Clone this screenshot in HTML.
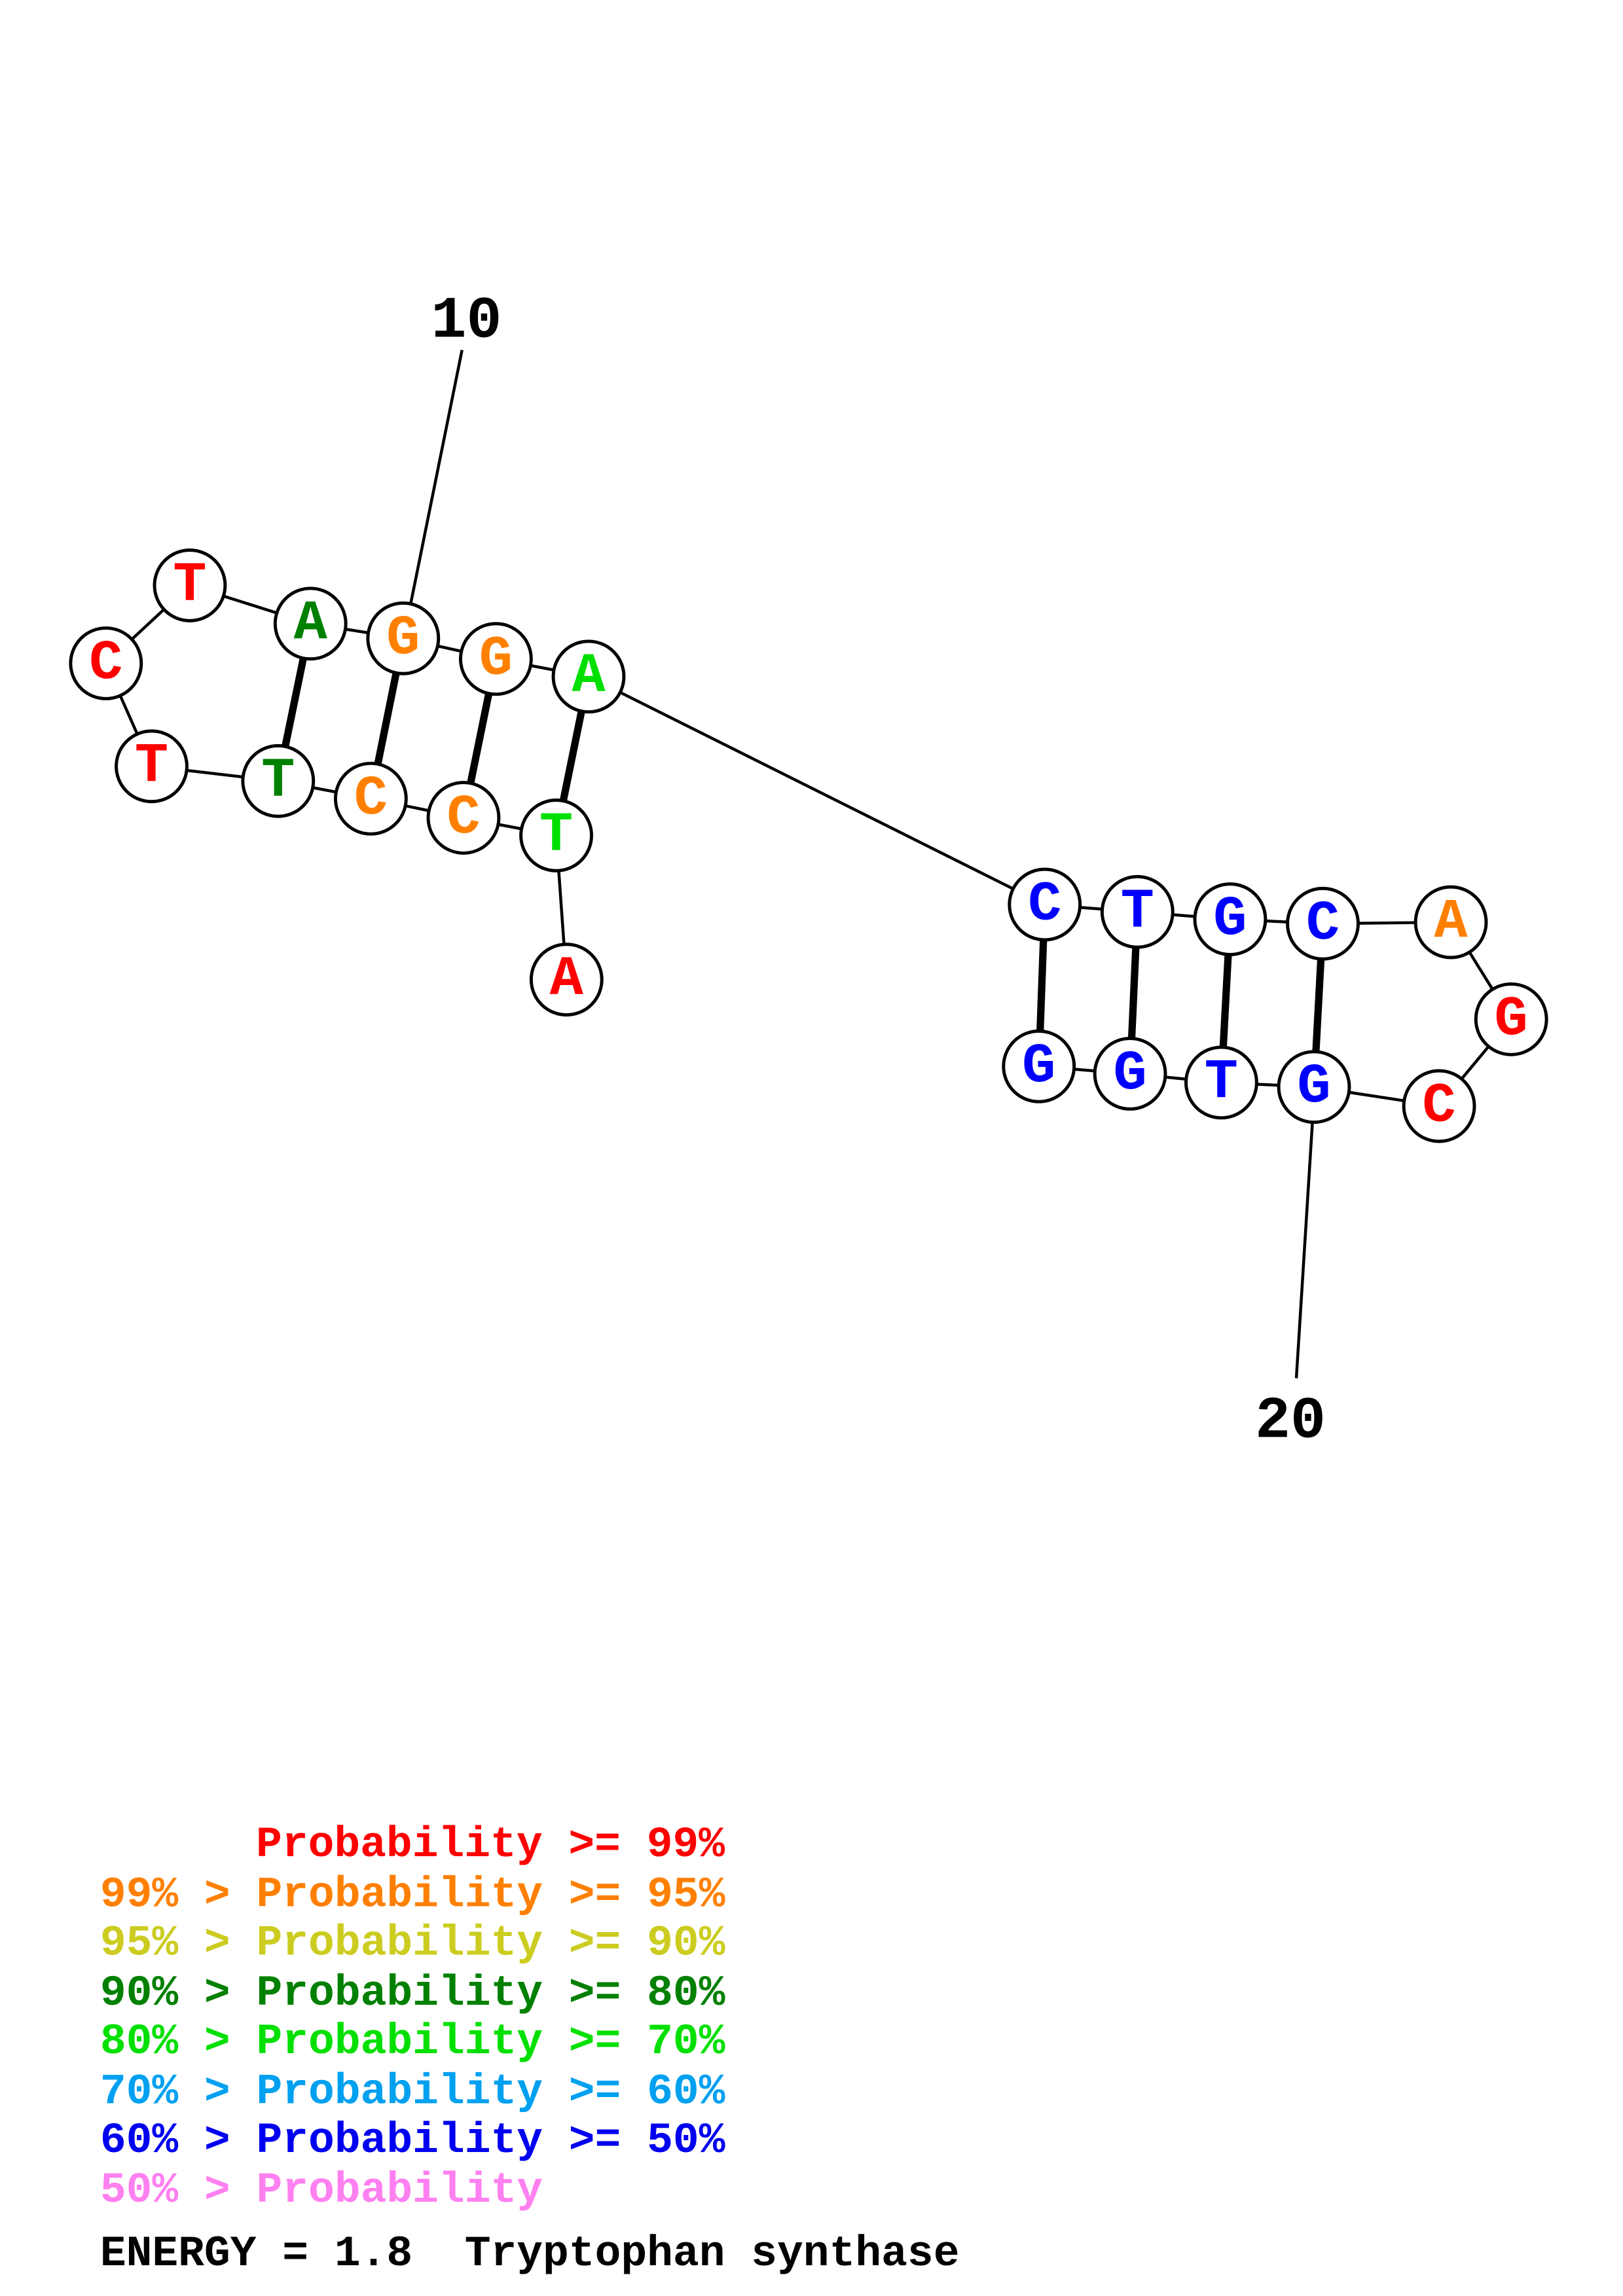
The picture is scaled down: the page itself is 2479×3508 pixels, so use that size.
<!DOCTYPE html>
<html><head><meta charset="utf-8"><style>html,body{margin:0;padding:0;background:#fff}svg{display:block}</style></head>
<body>
<svg width="2479" height="3508" viewBox="0 0 1103 1561" preserveAspectRatio="none" xmlns="http://www.w3.org/2000/svg">
<g stroke="#000" stroke-width="2" fill="none">
<polyline points="385,666 378,568 315,556 252,543 189,531 103,521 72,451 129,398 211,424 274,434 337,448 400,460 710,615 773,620 836,625 899,628 986,627 1027,693 978,752 893,739 830,736 768,730 706,725"/>
<line x1="314" y1="238" x2="279" y2="411"/>
<line x1="892" y1="762" x2="881" y2="937"/>
</g>
<g stroke="#000" stroke-width="5">
<line x1="211" y1="424" x2="189" y2="531"/>
<line x1="274" y1="434" x2="252" y2="543"/>
<line x1="337" y1="448" x2="315" y2="556"/>
<line x1="400" y1="460" x2="378" y2="568"/>
<line x1="710" y1="615" x2="706" y2="725"/>
<line x1="773" y1="620" x2="768" y2="730"/>
<line x1="836" y1="625" x2="830" y2="736"/>
<line x1="899" y1="628" x2="893" y2="739"/>
</g>
<g stroke="#000" stroke-width="2.2" fill="#fff">
<circle cx="129" cy="398" r="24"/><circle cx="72" cy="451" r="24"/><circle cx="103" cy="521" r="24"/>
<circle cx="211" cy="424" r="24"/><circle cx="274" cy="434" r="24"/><circle cx="337" cy="448" r="24"/>
<circle cx="400" cy="460" r="24"/><circle cx="189" cy="531" r="24"/><circle cx="252" cy="543" r="24"/>
<circle cx="315" cy="556" r="24"/><circle cx="378" cy="568" r="24"/><circle cx="385" cy="666" r="24"/>
<circle cx="710" cy="615" r="24"/><circle cx="773" cy="620" r="24"/><circle cx="836" cy="625" r="24"/>
<circle cx="899" cy="628" r="24"/><circle cx="986" cy="627" r="24"/><circle cx="1027" cy="693" r="24"/>
<circle cx="978" cy="752" r="24"/><circle cx="893" cy="739" r="24"/><circle cx="830" cy="736" r="24"/>
<circle cx="768" cy="730" r="24"/><circle cx="706" cy="725" r="24"/>
</g>
<g font-family="Liberation Mono, monospace" font-weight="bold" font-size="38" text-anchor="middle" dominant-baseline="central">
<text x="129" y="398" fill="#f00">T</text><text x="72" y="451" fill="#f00">C</text><text x="103" y="521" fill="#f00">T</text>
<text x="211" y="424" fill="#008000">A</text><text x="274" y="434" fill="#ff8000">G</text><text x="337" y="448" fill="#ff8000">G</text>
<text x="400" y="460" fill="#00e000">A</text><text x="189" y="531" fill="#008000">T</text><text x="252" y="543" fill="#ff8000">C</text>
<text x="315" y="556" fill="#ff8000">C</text><text x="378" y="568" fill="#00e000">T</text><text x="385" y="666" fill="#f00">A</text>
<text x="710" y="615" fill="#00f">C</text><text x="773" y="620" fill="#00f">T</text><text x="836" y="625" fill="#00f">G</text>
<text x="899" y="628" fill="#00f">C</text><text x="986" y="627" fill="#ff8000">A</text><text x="1027" y="693" fill="#f00">G</text>
<text x="978" y="752" fill="#f00">C</text><text x="893" y="739" fill="#00f">G</text><text x="830" y="736" fill="#00f">T</text>
<text x="768" y="730" fill="#00f">G</text><text x="706" y="725" fill="#00f">G</text>
</g>
<g font-family="Liberation Mono, monospace" font-weight="bold" font-size="40" text-anchor="middle">
<text x="317" y="229">10</text><text x="877" y="977">20</text>
</g>
<g font-family="Liberation Mono, monospace" font-weight="bold" font-size="29.5">
<text x="174" y="1262" fill="#f00">Probability &gt;= 99%</text>
<text x="68" y="1296" fill="#ff8000">99% &gt; Probability &gt;= 95%</text>
<text x="68" y="1329" fill="#cccc20">95% &gt; Probability &gt;= 90%</text>
<text x="68" y="1363" fill="#008000">90% &gt; Probability &gt;= 80%</text>
<text x="68" y="1396" fill="#00e000">80% &gt; Probability &gt;= 70%</text>
<text x="68" y="1430" fill="#00a0f0">70% &gt; Probability &gt;= 60%</text>
<text x="68" y="1463" fill="#0000f0">60% &gt; Probability &gt;= 50%</text>
<text x="68" y="1497" fill="#ff80f0">50% &gt; Probability</text>
<text x="68" y="1540" fill="#000">ENERGY = 1.8&#160;&#160;Tryptophan synthase</text>
</g>
</svg>
</body></html>
